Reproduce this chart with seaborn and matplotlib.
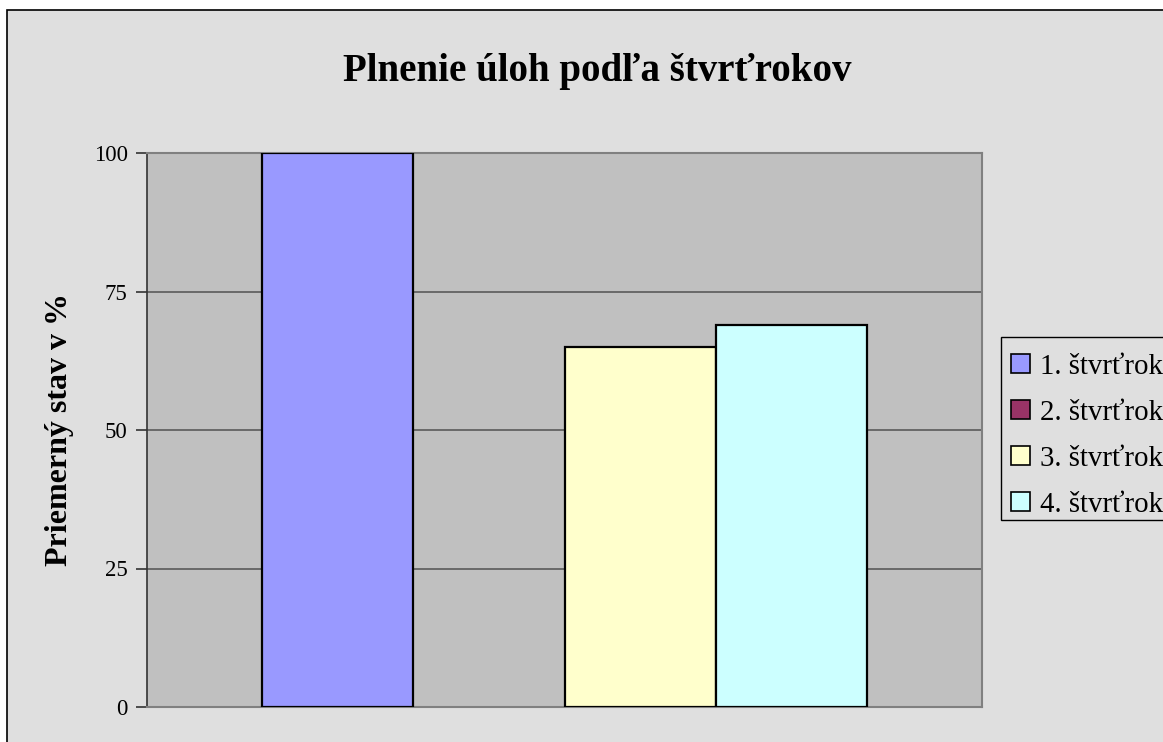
import matplotlib
matplotlib.use("Agg")
import matplotlib.pyplot as plt
import seaborn as sns
from matplotlib.patches import Rectangle, Patch

# data
quarters = ["1. štvrťrok", "2. štvrťrok", "3. štvrťrok", "4. štvrťrok"]
values = [100, 0, 65, 69]
colors = ["#9999FF", "#993366", "#FFFFCC", "#CCFFFF"]
yticks = [0, 25, 50, 75, 100]

sns.set_style("white")
plt.rcParams["font.family"] = ["Liberation Serif", "DejaVu Serif"]
plt.rcParams["text.color"] = "black"
plt.rcParams["ytick.color"] = "black"
plt.rcParams["axes.labelcolor"] = "black"

W, H = 1163, 742
fig = plt.figure(figsize=(11.63, 7.42), dpi=100, facecolor="white")
# outer chart area frame (cut off at right and bottom like the reference)
bg = Rectangle((7 / W, -0.05), 1.2, 1 - 10 / H + 0.05,
               transform=fig.transFigure, facecolor="#DFDFDF",
               edgecolor="black", linewidth=1.2)
bg.set_zorder(-10)
fig.add_artist(bg)

ax = fig.add_axes([147 / W, 35 / H, 835 / W, 554 / H])
ax.set_zorder(5)
ax.set_facecolor("#C0C0C0")

sns.barplot(x=["Q"] * 4, y=values, hue=quarters, palette=colors,
            saturation=1, width=0.724, edgecolor="black", linewidth=1.6,
            legend=False, ax=ax, zorder=3)
for p in ax.patches:
    if p.get_height() == 0:
        p.set_linewidth(0)

ax.set_xlim(-0.5, 0.5)
ax.set_ylim(0, 100)
ax.set_yticks(yticks)
ax.set_yticklabels([str(t) for t in yticks], fontsize=16.5)
ax.set_xticks([])
ax.yaxis.grid(True, color="#5A5A5A", linewidth=1.2, zorder=0)
ax.set_axisbelow(True)
ax.tick_params(axis="y", length=8, width=1.2, color="#333333", pad=6, left=True)
for side in ["top", "right", "bottom"]:
    ax.spines[side].set_color("#808080")
    ax.spines[side].set_linewidth(1.5)
ax.spines["left"].set_color("#333333")
ax.spines["left"].set_linewidth(1.2)

ax.set_xlabel("")
ax.set_ylabel("Priemerný stav v %", fontsize=23, fontweight="bold", labelpad=14)
fig.text(597 / W, 1 - 71 / H, "Plnenie úloh podľa štvrťrokov",
         fontsize=28, fontweight="bold", ha="center", va="center", zorder=6)

# legend frame drawn separately so the box matches the reference
frame = Rectangle((1001 / W, 1 - 520 / H), 0.2, 183 / H,
                  transform=fig.transFigure, facecolor="#DFDFDF",
                  edgecolor="black", linewidth=1.0)
frame.set_zorder(6)
fig.add_artist(frame)

handles = [Patch(facecolor=c, edgecolor="black", linewidth=1.2) for c in colors]
leg = fig.legend(handles, quarters, loc="upper left",
                 bbox_to_anchor=(1011 / W, 1 - 354 / H),
                 fontsize=20.8, frameon=False,
                 handlelength=0.65, handleheight=0.65, handletextpad=0.34,
                 labelspacing=0.69, borderpad=0, borderaxespad=0)
leg.set_zorder(7)

fig.savefig("out.png", dpi=100, facecolor="white")
